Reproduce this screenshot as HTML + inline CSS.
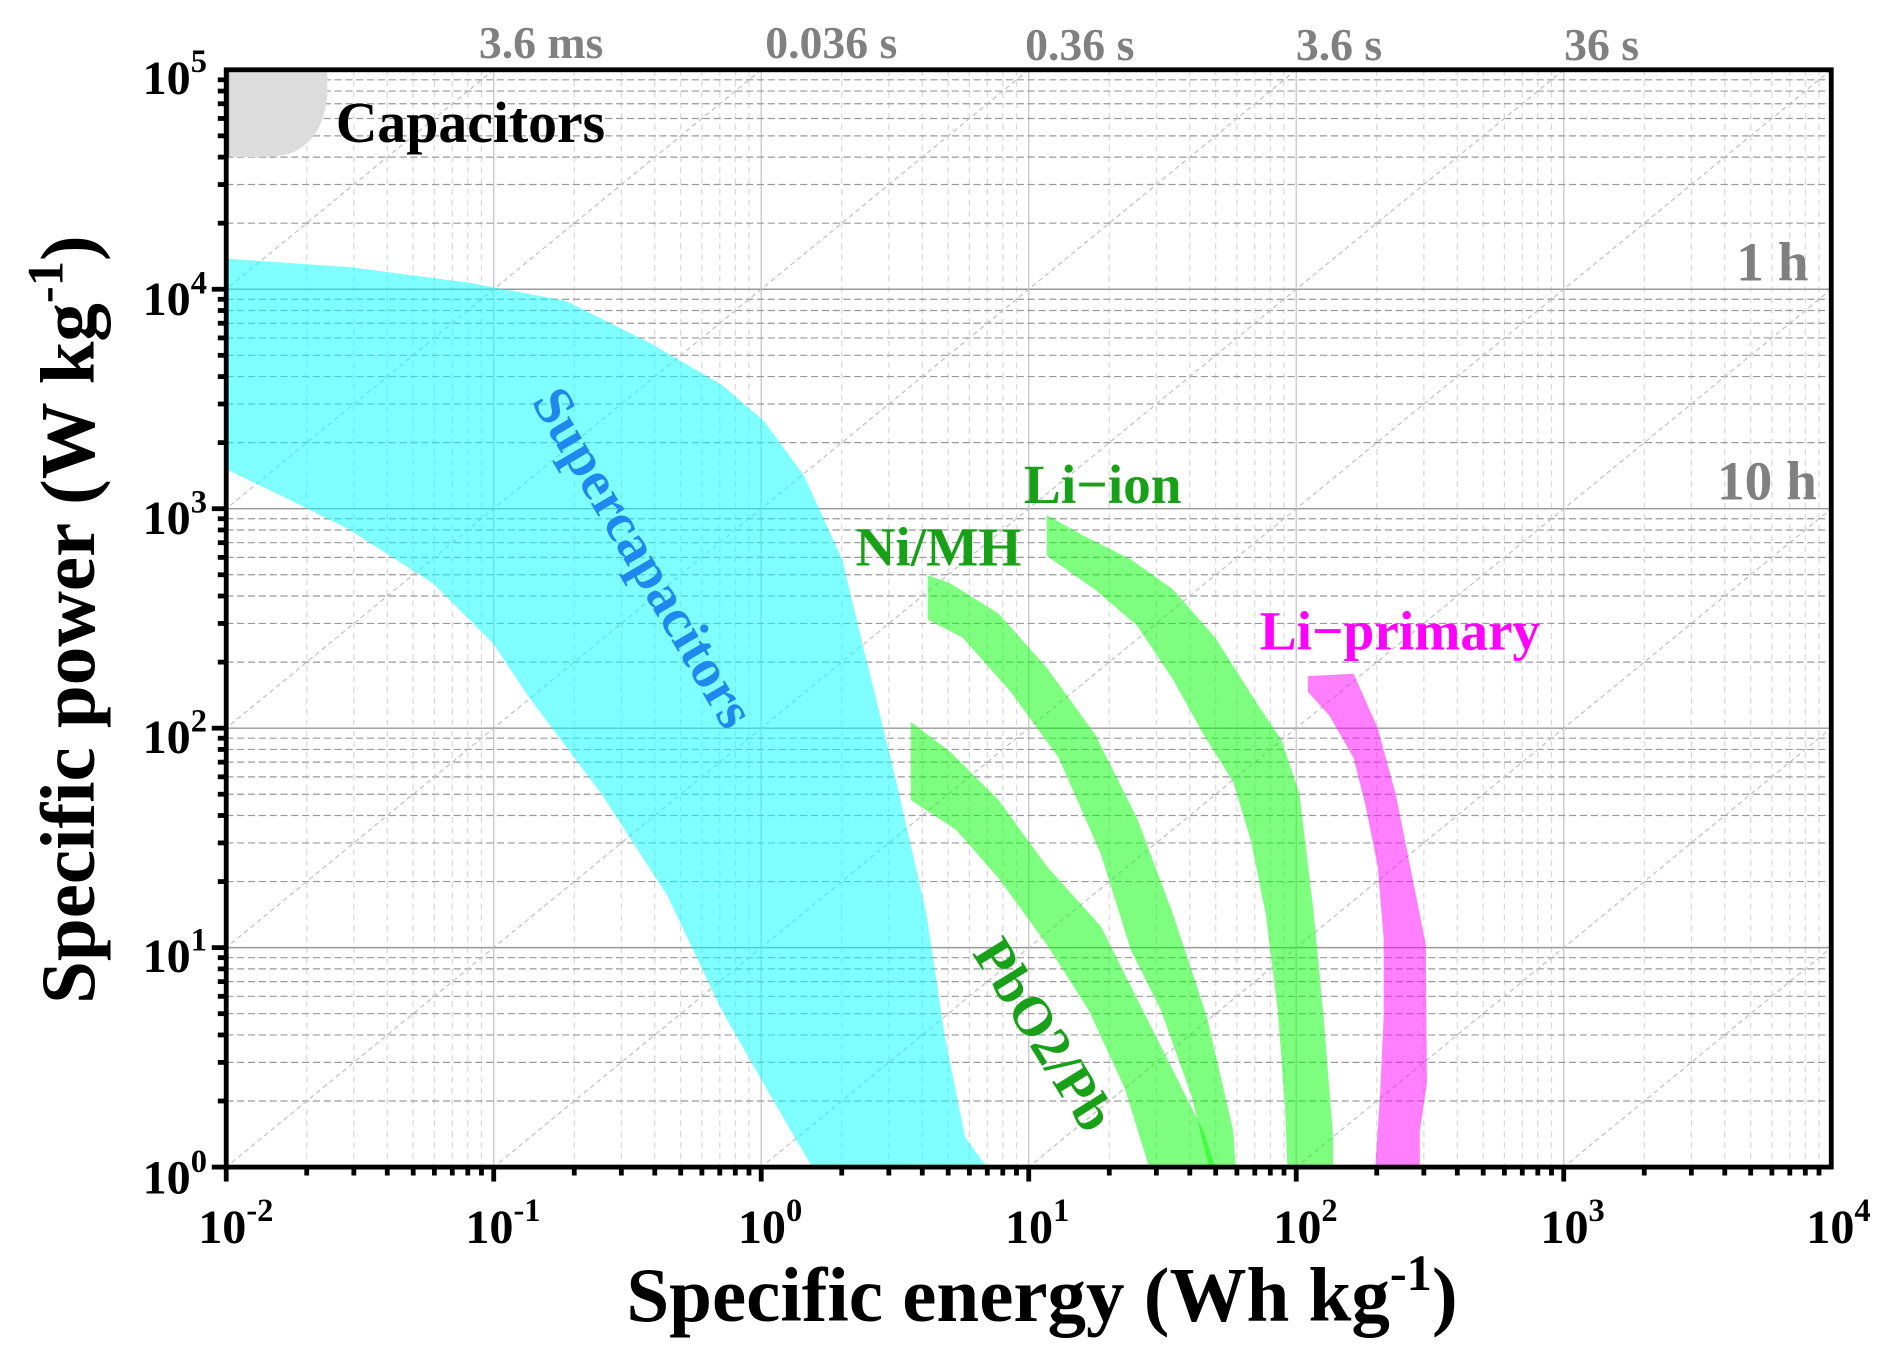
<!DOCTYPE html>
<html><head><meta charset="utf-8"><style>
html,body{margin:0;padding:0;background:#fff;overflow:hidden;width:1877px;height:1362px;}
svg{display:block;}
text{font-family:"Liberation Serif",serif;font-weight:bold;}
</style></head><body>
<svg id="s" width="1877" height="1362" viewBox="0 0 1560 1132" xmlns="http://www.w3.org/2000/svg">
<defs><clipPath id="cp"><rect x="188" y="58" width="1334" height="912"/></clipPath></defs>
<g id="grid" clip-path="url(#cp)"></g>
<g clip-path="url(#cp)">
<path d="M188,58 L272,58 L272,80 Q268,118 240,128 Q220,132 188,130 Z" fill="#dcdcdc"/>
<line x1="189" y1="58" x2="189" y2="130" stroke="#666" stroke-width="3"/>
<polygon fill="rgba(0,255,255,0.5)" points="188,215 290,222 390,235 470,250 540,285 600,320 635,350 668,395 700,465 718,540 745,650 770,760 785,860 802,945 820,970 675,970 640,910 600,840 555,745 500,660 440,580 410,535 360,485 290,440 240,415 188,390"/>
<polygon fill="rgba(0,255,0,0.5)" points="771,478 790,485 830,510 870,555 910,610 945,680 975,760 1003,845 1025,940 1027,970 1005,970 990,910 965,840 940,790 915,710 880,630 840,575 800,530 771,515"/>
<polygon fill="rgba(0,255,0,0.5)" points="757,600 790,625 830,665 870,720 915,770 945,830 970,880 1000,940 1010,970 955,970 935,905 905,840 870,785 830,730 795,690 757,665"/>
<polygon fill="rgba(0,255,0,0.5)" points="870,428 900,445 940,465 975,490 1010,530 1045,585 1065,615 1080,660 1092,760 1100,845 1108,945 1108,970 1070,970 1068,920 1062,840 1052,760 1040,700 1025,650 1000,610 975,565 945,520 910,490 870,462"/>
<polygon fill="rgba(255,0,255,0.5)" points="1087,562 1125,560 1145,605 1160,660 1172,720 1185,785 1186,900 1180,940 1180,970 1143,970 1147,910 1150,845 1150,780 1145,720 1135,670 1125,630 1105,595 1087,575"/>
</g>
<g id="ticks"></g>
<rect x="188" y="58" width="1334" height="912" fill="none" stroke="#000" stroke-width="4"/>
<text x="279" y="118" font-size="48">Capacitors</text>
<text transform="translate(522,471) rotate(59.5)" text-anchor="middle" font-size="46" fill="#1e88ee">Supercapacitors</text>
<text x="851" y="418" font-size="46" fill="#18a018">Li−ion</text>
<text x="711" y="470" font-size="46" fill="#18a018">Ni/MH</text>
<text x="1047" y="540" font-size="46" fill="#ff00ff">Li−primary</text>
<text transform="translate(855,868) rotate(58)" text-anchor="middle" font-size="46" fill="#18a018">PbO2/Pb</text>
<g fill="#808080" font-size="38">
<text x="398" y="48">3.6 ms</text><text x="636" y="48">0.036 s</text><text x="852" y="50">0.36 s</text><text x="1077" y="50">3.6 s</text><text x="1300" y="50">36 s</text>
<text x="1443" y="233" font-size="46">1 h</text><text x="1427" y="415" font-size="46">10 h</text>
</g>
<g font-size="40" text-anchor="end">
<text x="172" y="78">10<tspan dy="-18" font-size="27">5</tspan></text>
<text x="172" y="262">10<tspan dy="-18" font-size="27">4</tspan></text>
<text x="172" y="444">10<tspan dy="-18" font-size="27">3</tspan></text>
<text x="172" y="626">10<tspan dy="-18" font-size="27">2</tspan></text>
<text x="172" y="808">10<tspan dy="-18" font-size="27">1</tspan></text>
<text x="172" y="992">10<tspan dy="-18" font-size="27">0</tspan></text>
</g>
<g font-size="40" text-anchor="middle">
<text x="196" y="1033">10<tspan dy="-18" font-size="27">-2</tspan></text>
<text x="418" y="1033">10<tspan dy="-18" font-size="27">-1</tspan></text>
<text x="640" y="1033">10<tspan dy="-18" font-size="27">0</tspan></text>
<text x="862" y="1033">10<tspan dy="-18" font-size="27">1</tspan></text>
<text x="1085" y="1033">10<tspan dy="-18" font-size="27">2</tspan></text>
<text x="1307" y="1033">10<tspan dy="-18" font-size="27">3</tspan></text>
<text x="1528" y="1033">10<tspan dy="-18" font-size="27">4</tspan></text>
</g>
<text x="866" y="1098" text-anchor="middle" font-size="64">Specific energy (Wh kg<tspan dy="-26" font-size="42">-1</tspan><tspan dy="26">)</tspan></text>
<text transform="translate(78,515) rotate(-90)" text-anchor="middle" font-size="64">Specific power (W kg<tspan dy="-26" font-size="42">-1</tspan><tspan dy="26">)</tspan></text>
</svg>
<script>
var NS="http://www.w3.org/2000/svg",g=document.getElementById('grid'),t=document.getElementById('ticks');
function L(p,a,b,c,d,s,w,da){var l=document.createElementNS(NS,'line');l.setAttribute('x1',a);l.setAttribute('y1',b);l.setAttribute('x2',c);l.setAttribute('y2',d);l.setAttribute('stroke',s);l.setAttribute('stroke-width',w);if(da)l.setAttribute('stroke-dasharray',da);p.appendChild(l);}
var X0=188,XD=222.33,Y0=970,YD=182.4;
for(var k=0;k<6;k++)for(var m=1;m<10;m++){var x=X0+(k+Math.log10(m))*XD;if(x>1523)break;
 if(m==1){L(g,x,58,x,970,'#ccc',1.2);L(t,x,970,x,982,'#000',4);}
 else{L(g,x,58,x,970,'#d8d8d8',1,'5,4');L(t,x,970,x,977,'#000',4);}}
for(var k=0;k<5;k++)for(var m=1;m<10;m++){var y=Y0-(k+Math.log10(m))*YD;
 if(m==1){L(g,188,y,1522,y,'#999',1.2);L(t,176,y,188,y,'#000',4);}
 else{L(g,188,y,1522,y,'#9a9a9a',1,'6,3');L(t,181,y,188,y,'#000',4);}}
for(var k=-1;k<12;k++){var x1=X0+k*XD,y1=58,sl=YD/XD;
 L(g,x1,y1,x1-2000,y1+2000*sl,'#c0c0c0',1,'4,3');}
</script>
</body></html>
